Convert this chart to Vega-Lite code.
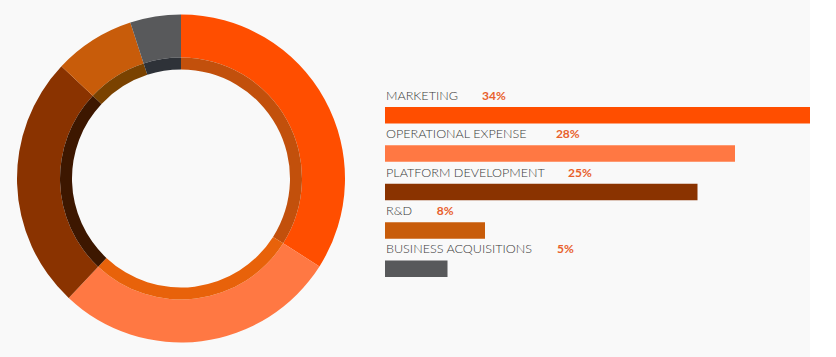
{
  "$schema": "https://vega.github.io/schema/vega-lite/v6.json",
  "background": "#f9f9f9",
  "padding": 0,
  "spacing": 23,
  "config": {"view": {"stroke": null}, "font": "Lato"},
  "data": {"values": [
    {"label": "MARKETING", "pct": 34, "order": 1},
    {"label": "OPERATIONAL EXPENSE", "pct": 28, "order": 2},
    {"label": "PLATFORM DEVELOPMENT", "pct": 25, "order": 3},
    {"label": "R&D", "pct": 8, "order": 4},
    {"label": "BUSINESS ACQUISITIONS", "pct": 5, "order": 5}
  ]},
  "hconcat": [
    {
      "width": 362,
      "height": 357,
      "layer": [
        {
          "mark": {"type": "arc", "radius": 164, "radius2": 121},
          "encoding": {
            "theta": {"field": "pct", "type": "quantitative", "stack": true},
            "order": {"field": "order", "type": "quantitative"},
            "color": {
              "field": "label", "type": "nominal", "legend": null,
              "scale": {
                "domain": ["MARKETING", "OPERATIONAL EXPENSE", "PLATFORM DEVELOPMENT", "R&D", "BUSINESS ACQUISITIONS"],
                "range": ["#ff4e00", "#ff7843", "#8a3300", "#c85c0a", "#58595b"]
              }
            }
          }
        },
        {
          "mark": {"type": "arc", "radius": 121, "radius2": 109},
          "encoding": {
            "theta": {"field": "pct", "type": "quantitative", "stack": true},
            "order": {"field": "order", "type": "quantitative"},
            "fill": {
              "field": "label", "type": "nominal", "legend": null,
              "scale": {
                "domain": ["MARKETING", "OPERATIONAL EXPENSE", "PLATFORM DEVELOPMENT", "R&D", "BUSINESS ACQUISITIONS"],
                "range": ["#c2500c", "#e8620a", "#3d1700", "#7a4200", "#2e3238"]
              }
            }
          }
        }
      ]
    },
    {
      "width": 425,
      "height": 357,
      "encoding": {
        "y": {
          "field": "order", "type": "quantitative",
          "scale": {"domain": [-1.871, 7.167], "reverse": true, "nice": false, "zero": false},
          "axis": null
        }
      },
      "layer": [
        {
          "mark": {"type": "bar", "orient": "horizontal", "height": 16.5},
          "encoding": {
            "x": {"field": "pct", "type": "quantitative", "scale": {"domain": [0, 34], "nice": false}, "axis": null},
            "color": {"field": "label", "type": "nominal", "legend": null}
          }
        },
        {
          "mark": {"type": "text", "align": "left", "baseline": "middle", "dx": 1, "dy": -19.5, "fontSize": 12.6, "fontWeight": 300, "color": "#3a3a3a"},
          "encoding": {
            "x": {"datum": 0, "type": "quantitative"},
            "text": {"field": "label", "type": "nominal"}
          }
        },
        {
          "transform": [
            {"calculate": "length(datum.label) - length(replace(datum.label, regexp('[IS]', 'g'), ''))", "as": "nNarrow"},
            {"calculate": "length(datum.label) - length(replace(datum.label, regexp(' ', 'g'), ''))", "as": "nSpace"},
            {"calculate": "(length(datum.label) * 7.9 - datum.nNarrow * 2.1 - datum.nSpace * 3 + 28) / 12.5", "as": "pctPos"},
            {"calculate": "datum.pct + '%'", "as": "pctText"}
          ],
          "mark": {"type": "text", "align": "left", "baseline": "middle", "dy": -19.5, "fontSize": 12, "fontWeight": "bold", "color": "#e8602c"},
          "encoding": {
            "x": {"field": "pctPos", "type": "quantitative"},
            "text": {"field": "pctText", "type": "nominal"}
          }
        }
      ]
    }
  ]
}
